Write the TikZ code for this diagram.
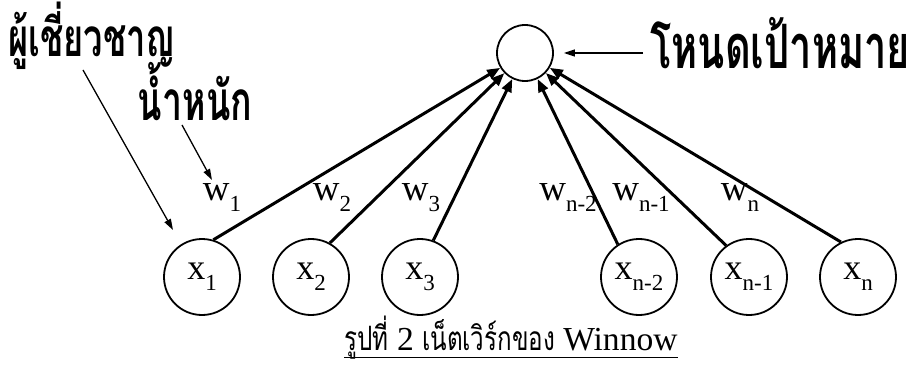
\documentclass[tikz,border=0pt]{standalone}
\usepackage{fontspec}
\setmainfont{Liberation Serif}
\newfontfamily\thaib[Script=Thai,FakeStretch=0.65]{Loma}
\newfontfamily\thaic[Script=Thai,FakeStretch=0.72]{Loma}
\usetikzlibrary{arrows.meta}
\newcommand{\lsub}[1]{\raisebox{-11pt}{\fontsize{23}{23}\selectfont #1}}
\begin{document}
\begin{tikzpicture}[x=1pt,y=-1pt,
  inp/.style={circle,draw,line width=1.8pt,minimum size=76pt,inner sep=0pt,font=\fontsize{36}{36}\selectfont},
  tgtnode/.style={circle,draw,line width=1.8pt,minimum size=56pt,inner sep=0pt},
  wlab/.style={inner sep=0pt,font=\fontsize{37}{37}\selectfont},
  thick arrow/.style={line width=3pt,-{Triangle[length=13pt,width=10pt]}},
  thin arrow/.style={line width=1.3pt,-{Triangle[length=11pt,width=7pt]}},
  thailab/.style={inner sep=0pt,font=\thaib\bfseries\fontsize{40}{40}\selectfont}]
\useasboundingbox (0,0) rectangle (921,366);
\fill[white] (0,0) rectangle (921,366);
% target
\node[tgtnode] (tgt) at (525,53) {};
\node[thailab,anchor=west] (tlab) at (650,43) {\resizebox{260pt}{!}{โหนดเป้าหมาย}};
\draw[thin arrow,shorten >=10pt,shorten <=7pt] (tlab.west |- tgt) -- (tgt.east);
% inputs
\node[inp] (x1) at (202,277) {x\lsub{1}};
\node[inp] (x2) at (311,277) {x\lsub{2}};
\node[inp] (x3) at (420,277) {x\lsub{3}};
\node[inp] (xn2) at (639,277) {x\lsub{n-2}};
\node[inp] (xn1) at (749,277) {x\lsub{n-1}};
\node[inp] (xn) at (858,277) {x\lsub{n}};
% weighted connectors
\draw[thick arrow] (x1.73) -- (tgt);
\draw[thick arrow] (x2.61) -- (tgt);
\draw[thick arrow] (x3.70) -- (tgt);
\draw[thick arrow] (xn2.123) -- (tgt);
\draw[thick arrow] (xn1.126) -- (tgt);
\draw[thick arrow] (xn.116) -- (tgt);
% weight labels
\node[wlab] (w1) at (222,198) {w\lsub{1}};
\node[wlab] (w2) at (332,198) {w\lsub{2}};
\node[wlab] (w3) at (421,198) {w\lsub{3}};
\node[wlab] (wn2) at (568,198) {w\lsub{n-2}};
\node[wlab] (wn1) at (641,198) {w\lsub{n-1}};
\node[wlab] (wn) at (740,198) {w\lsub{n}};
% thai labels
\node[thailab,anchor=west] (exp) at (8,36) {\resizebox{167pt}{!}{ผู้เชี่ยวชาญ}};
\node[thailab] (wt) at (195,92) {\resizebox{114pt}{!}{น้ำหนัก}};
\coordinate (expFrom) at (83,70);
\coordinate (expTip) at (173,230);
\coordinate (wtFrom) at (182,125);
\coordinate (wtTip) at (212,180);
\draw[thin arrow] (expFrom) -- (expTip);
\draw[thin arrow] (wtFrom) -- (wtTip);
% caption
\node[inner sep=0pt,anchor=base] (cap) at (511,350) {\resizebox{333pt}{!}{{\thaic รูปที่} 2 {\thaic เน็ตเวิร์กของ} Winnow}};
\draw[line width=1pt] (cap.west |- 0,357) -- (cap.east |- 0,357);
\end{tikzpicture}
\end{document}
